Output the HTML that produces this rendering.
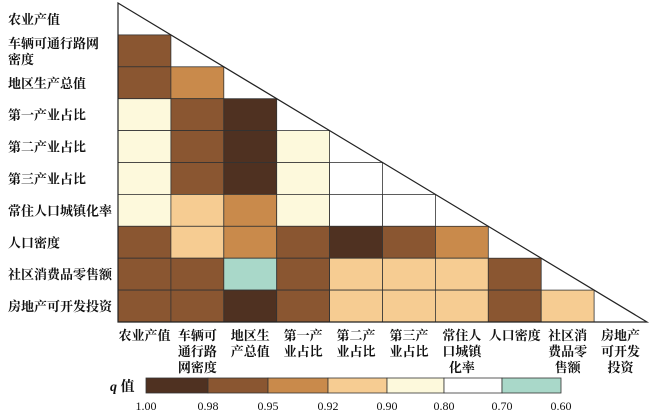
<!DOCTYPE html>
<html><head><meta charset="utf-8"><style>
html,body{margin:0;padding:0;background:#fff;}
svg{display:block;font-family:"Liberation Serif","Noto Serif CJK SC",serif;}
</style></head><body>
<svg id="chart" width="650" height="414" viewBox="0 0 650 414"></svg>
<script>
const rowLabels=[["农业产值"],["车辆可通行路网","密度"],["地区生产总值"],["第一产业占比"],["第二产业占比"],["第三产业占比"],["常住人口城镇化率"],["人口密度"],["社区消费品零售额"],["房地产可开发投资"]];
const colLabels=[["农业产值"],["车辆可","通行路","网密度"],["地区生","产总值"],["第一产","业占比"],["第二产","业占比"],["第三产","业占比"],["常住人","口城镇","化率"],["人口密度"],["社区消","费品零","售额"],["房地产","可开发","投资"]];
const qValues=[
 [],
 [0.96],
 [0.96,0.93],
 [0.85,0.96,0.99],
 [0.85,0.96,0.99,0.85],
 [0.85,0.96,0.99,0.85,0.75],
 [0.85,0.91,0.93,0.85,0.75,0.75],
 [0.96,0.91,0.93,0.96,0.99,0.96,0.93],
 [0.96,0.96,0.65,0.96,0.91,0.91,0.91,0.96],
 [0.96,0.96,0.99,0.96,0.91,0.91,0.91,0.96,0.91]
];
const legendTicks=["1.00","0.98","0.95","0.92","0.90","0.80","0.70","0.60"];
const legendBounds=[1.00,0.98,0.95,0.92,0.90,0.80,0.70,0.60];
const legendColors=["#4f3121","#8a5631","#c98a4b","#f6cc92","#fdf9dc","#ffffff","#a9d8c9"];

const svg=document.getElementById('chart');
const NS="http://www.w3.org/2000/svg";
function mk(t,a){const e=document.createElementNS(NS,t);for(const k in a)e.setAttribute(k,a[k]);svg.appendChild(e);return e;}
const x0=118,cw=52.9,y0=3,rh=31.9,n=10;
const xS=i=>x0+i*cw, yS=i=>y0+i*rh;
function colorFor(v){for(let i=0;i<legendColors.length;i++){if(v<=legendBounds[i]&&v>legendBounds[i+1])return legendColors[i];}return legendColors[legendColors.length-1];}

qValues.forEach((row,r)=>row.forEach((v,c)=>{
  const e=mk('rect',{x:xS(c),y:yS(r),width:cw,height:rh,fill:colorFor(v),stroke:'#333','stroke-width':0.8});
  
  
}));
const tri=mk('polygon',{points:`${xS(0)},${yS(0)} ${xS(n)},${yS(n)} ${xS(0)},${yS(n)}`,fill:'none',stroke:'#222','stroke-width':1.2});



rowLabels.forEach((ls,r)=>{
  const cy=yS(r)+rh/2, start=cy-(ls.length-1)*8;
  ls.forEach((s,k)=>{
    const t=mk('text',{x:8,y:start+k*16+5,'font-size':13,'font-weight':'bold',fill:'#111'});
    t.textContent=s;
    
    
  });
});
colLabels.forEach((ls,c)=>{
  ls.forEach((s,k)=>{
    const t=mk('text',{x:xS(c)+cw/2,y:340+k*16,'font-size':13,'font-weight':'bold','text-anchor':'middle',fill:'#111'});
    t.textContent=s;
    
    
  });
});
// legend
const lx=[146,208,268,328,387,444,502,561];
const q=mk('text',{x:110,y:391,'font-size':14,'font-weight':'bold',fill:'#111'});
q.innerHTML='<tspan font-style="italic">q</tspan> 值';


legendColors.forEach((col,i)=>{
  const e=mk('rect',{x:lx[i],y:378,width:lx[i+1]-lx[i],height:15,fill:col,stroke:'#333','stroke-width':0.8});
  
  
});
legendTicks.forEach((s,i)=>{
  const t=mk('text',{x:lx[i],y:410,'font-size':12,'text-anchor':'middle',fill:'#111'});
  t.textContent=s;
  
  
});
</script>
</body></html>
